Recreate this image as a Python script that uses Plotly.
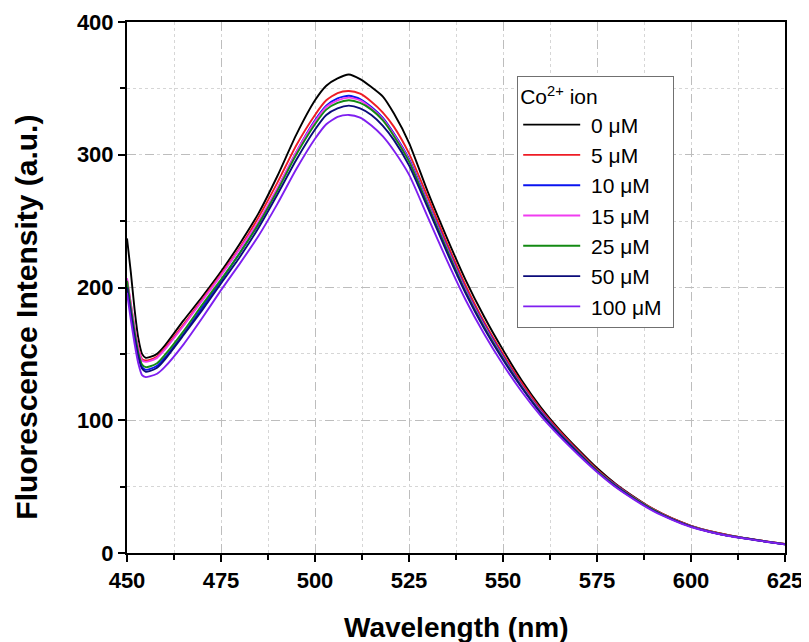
import plotly.graph_objects as go

wavelength = [450, 451, 452, 453, 454, 455, 456, 458, 460, 465, 470, 475, 480, 485, 490,
              495, 500, 503, 506, 509, 512, 515, 518, 521, 525, 530, 535, 540, 545, 550,
              555, 560, 565, 570, 575, 580, 585, 590, 595, 600, 605, 610, 615, 620, 625]

co_0 = [237, 212, 184, 162, 150, 147, 147.5, 150, 156, 175, 193, 212, 233, 256, 284,
        315, 341, 352, 357.5, 360.5, 357, 351, 344, 331, 309, 272, 238, 206, 178, 153,
        130, 110, 93, 78, 64, 52, 42, 33, 26, 20.5, 16.5, 13.5, 11, 8.8, 6.8]
co_5 = [206, 188, 170, 155, 146, 145, 145.5, 148, 154, 172, 191, 210, 230, 253, 279,
        307, 330, 341, 346.5, 348, 346, 340, 332, 321, 301, 268, 234, 202, 174, 150,
        128, 108.5, 92, 77, 63, 51.5, 41.5, 33, 26, 20.5, 16.5, 13.5, 11, 8.8, 6.8]
co_10 = [203, 184, 166, 150, 140, 138, 138.5, 141, 147, 165, 185, 205, 226, 248, 274,
         302, 326, 337, 342.5, 344.5, 342, 336, 328, 316, 297, 264, 231, 199, 172, 148,
         126, 107, 90.5, 76, 62, 51, 41, 32.5, 25.5, 20, 16, 13, 10.8, 8.6, 6.6]
co_15 = [207, 188, 170, 154, 145, 144, 144.5, 147, 153, 171, 190, 209, 229, 250, 275,
         302, 325, 336, 341, 343, 341, 335, 327, 315, 296, 263, 230, 198, 171, 147,
         125.5, 106.5, 90, 75.5, 62, 50.5, 41, 32.5, 25.5, 20, 16, 13, 10.8, 8.6, 6.6]
co_25 = [205, 185, 167, 151, 142, 140, 140.5, 143, 149, 167, 187, 206, 226, 248, 273,
         300, 323, 334, 339, 341, 339, 334, 326, 314, 295, 262, 229, 197, 170, 146.5,
         125, 106, 90, 75.5, 62, 50.5, 41, 32.5, 25.5, 20, 16, 13, 10.8, 8.6, 6.6]
co_50 = [200, 181, 163, 148, 139, 136.5, 137, 139.5, 145.5, 164, 183, 203, 223, 245, 270,
         296, 319, 330, 335, 337, 335, 330, 322, 311, 292, 260, 227, 196, 169, 145.5,
         124.5, 105.5, 89.5, 75, 61.5, 50, 40.5, 32, 25.3, 19.8, 15.9, 12.9, 10.7, 8.5, 6.5]
co_100 = [196, 176, 158, 143, 134, 132.5, 133, 135, 140, 157, 177, 198, 218, 239, 263,
          289, 312, 323, 328.5, 330, 328, 322, 314, 303, 285, 253, 221, 191, 165, 142,
          121.5, 103.5, 88, 74, 61, 49.5, 40, 31.5, 25, 19.6, 15.8, 12.8, 10.6, 8.5, 6.5]

labels = [" 0 μM", " 5 μM", " 10 μM", " 15 μM", " 25 μM", " 50 μM", " 100 μM "]
series = [co_0, co_5, co_10, co_15, co_25, co_50, co_100]
colors = ["#000000", "#ee1c25", "#0a14f0", "#f03cf0", "#138a13", "#0b0b7a", "#7f1ff0"]

x_ticks = [450, 475, 500, 525, 550, 575, 600, 625]
y_ticks = [0, 100, 200, 300, 400]

FONT = "Arial, Liberation Sans, Helvetica, sans-serif"

fig = go.Figure()
for lab, ys, c in zip(labels, series, colors):
    fig.add_trace(go.Scatter(x=wavelength, y=ys, mode="lines", name=lab,
                             line=dict(color=c, width=1.9, shape="spline", smoothing=0.6)))

axis_common = dict(
    showline=True, linecolor="black", linewidth=2, mirror=True,
    ticks="outside", ticklen=7, tickwidth=2, tickcolor="black",
    showgrid=True, gridcolor="#bdbdbd", griddash="dash", gridwidth=1,
    zeroline=False, automargin=False,
    tickfont=dict(family=FONT, size=22, color="black", weight="bold"),
)

fig.update_layout(
    width=801, height=634,
    margin=dict(l=119, r=24, t=14, b=89),
    paper_bgcolor="white", plot_bgcolor="white",
    font=dict(family=FONT, color="black"),
    showlegend=True,
    legend=dict(
        title=dict(text="Co<sup>2+</sup> ion", font=dict(family=FONT, size=21, color="black")),
        font=dict(family=FONT, size=21, color="black"),
        x=0.593, y=0.898, xanchor="left", yanchor="top",
        bgcolor="white", bordercolor="#707070", borderwidth=1,
        itemwidth=57, tracegroupgap=0,
    ),
    annotations=[
        dict(text="<b>Wavelength (nm)</b>", xref="paper", yref="paper", x=0.5, y=-0.141,
             xanchor="center", yanchor="middle", showarrow=False,
             font=dict(family=FONT, size=28, color="black")),
        dict(text="<b>Fluorescence Intensity (a.u.)</b>", xref="paper", yref="paper",
             x=-0.152, y=0.445, xanchor="center", yanchor="middle", showarrow=False,
             textangle=-90, font=dict(family=FONT, size=30, color="black")),
    ],
)

fig.update_xaxes(
    range=[450, 625], tickvals=x_ticks, ticktext=[str(v) for v in x_ticks],
    minor=dict(dtick=12.5, tick0=450, ticks="outside", ticklen=5, tickwidth=1.5, tickcolor="black",
               showgrid=True, gridcolor="#d6d6d6", griddash="dot", gridwidth=1),
    **axis_common,
)
fig.update_yaxes(
    range=[0, 400], tickvals=y_ticks, ticktext=[str(v) for v in y_ticks],
    minor=dict(dtick=50, tick0=0, ticks="outside", ticklen=5, tickwidth=1.5, tickcolor="black",
               showgrid=True, gridcolor="#d6d6d6", griddash="dot", gridwidth=1),
    **axis_common,
)

fig.write_html("out.html")
